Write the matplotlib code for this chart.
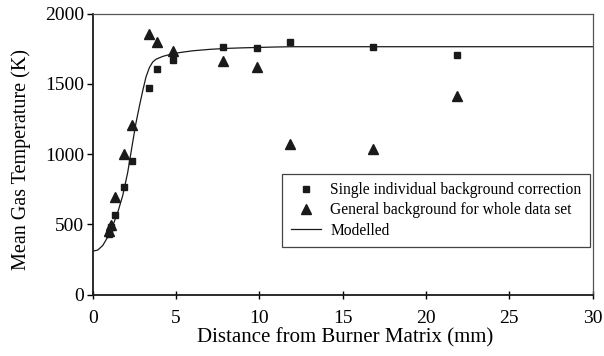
import numpy as np
import matplotlib
matplotlib.use('Agg')
import matplotlib.pyplot as plt

plt.rcParams['font.family'] = ['Liberation Serif', 'DejaVu Serif']

# Single individual background correction (squares)
sq_x = [0.98, 1.1, 1.34, 1.86, 2.34, 3.36, 3.84, 4.84, 7.84, 9.84, 11.87, 16.84, 21.84]
sq_y = [430, 481, 567, 769, 953, 1470, 1605, 1672, 1764, 1753, 1800, 1764, 1707]

# General background for whole data set (triangles)
tr_x = [0.95, 1.1, 1.34, 1.86, 2.34, 3.36, 3.84, 4.84, 7.84, 9.84, 11.87, 16.84, 21.84]
tr_y = [450, 498, 693, 998, 1205, 1855, 1796, 1731, 1660, 1617, 1069, 1034, 1410]

# Modelled curve
mod_x = [0, 0.3, 0.6, 0.9, 1.2, 1.5, 1.8, 2.1, 2.4, 2.6, 2.8, 3.0, 3.2, 3.4, 3.6, 3.8,
         4.2, 4.6, 5.2, 6.0, 7.0, 8.0, 9.0, 10.0, 11.0, 12.0, 15.0, 20.0, 25.0, 30.0]
mod_y = [310, 318, 350, 410, 490, 585, 705, 870, 1085, 1224, 1340, 1450, 1550, 1615, 1655, 1675,
         1695, 1708, 1722, 1735, 1745, 1752, 1756, 1759, 1762, 1764, 1764, 1764, 1764, 1764]

fig = plt.figure(figsize=(6.04, 3.56), dpi=100)
ax = fig.add_axes([0.1535, 0.172, 0.8275, 0.79])

ax.plot(mod_x, mod_y, color='#1a1a1a', linewidth=0.9, label='Modelled', zorder=2)
ax.plot(sq_x, sq_y, 's', color='#1a1a1a', markersize=5, linestyle='none',
        label='Single individual background correction', zorder=3)
ax.plot(tr_x, tr_y, '^', color='#1a1a1a', markersize=6.5, linestyle='none',
        label='General background for whole data set', zorder=3)

ax.set_xlim(0, 30)
ax.set_ylim(0, 2000)
ax.set_xticks([0, 5, 10, 15, 20, 25, 30])
ax.set_yticks([0, 500, 1000, 1500, 2000])
ax.tick_params(axis='x', direction='inout', length=6, labelsize=14, width=1, pad=8)
ax.tick_params(axis='y', direction='out', length=4, labelsize=14, width=1, pad=2)
ax.set_xlabel('Distance from Burner Matrix (mm)', fontsize=15)
ax.set_ylabel('Mean Gas Temperature (K)', fontsize=14.5)
ax.xaxis.set_label_coords(0.5056, -0.117)
ax.yaxis.set_label_coords(-0.124, 0.481)

for s in ['left', 'bottom']:
    ax.spines[s].set_linewidth(1.3)
    ax.spines[s].set_color('#1a1a1a')
for s in ['top', 'right']:
    ax.spines[s].set_linewidth(0.9)
    ax.spines[s].set_color('#555555')

h, l = ax.get_legend_handles_labels()
order = [1, 2, 0]
leg = ax.legend([h[i] for i in order], [l[i] for i in order], loc='upper left',
                bbox_to_anchor=(0.379, 0.431), fontsize=11.2, frameon=True, fancybox=False,
                edgecolor='#444444', framealpha=1, handlelength=1.95, borderpad=0.55,
                labelspacing=0.27, handletextpad=0.6, borderaxespad=0)
leg.get_frame().set_linewidth(0.9)

fig.savefig('out.png', dpi=100)
